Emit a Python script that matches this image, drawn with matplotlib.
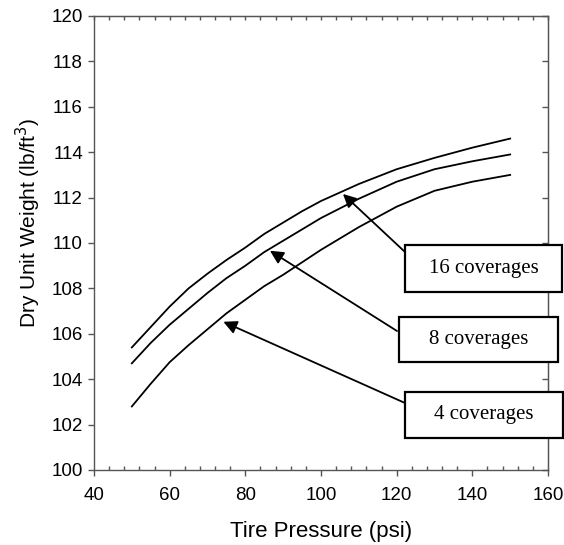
import matplotlib
matplotlib.use("Agg")
import matplotlib.pyplot as plt
from matplotlib.patches import Rectangle
from matplotlib.ticker import MultipleLocator

pressure = [50, 55, 60, 65, 70, 75, 80, 85, 90, 95, 100, 110, 120, 130, 140, 150]
cov16 = [105.4, 106.3, 107.2, 108.0, 108.65, 109.25, 109.8, 110.4, 110.9, 111.4, 111.85, 112.6, 113.25, 113.75, 114.2, 114.6]
cov8 = [104.7, 105.6, 106.4, 107.1, 107.8, 108.45, 109.0, 109.6, 110.1, 110.6, 111.1, 111.95, 112.7, 113.25, 113.6, 113.9]
cov4 = [102.8, 103.8, 104.75, 105.5, 106.2, 106.9, 107.5, 108.1, 108.6, 109.15, 109.7, 110.7, 111.6, 112.3, 112.7, 113.0]

labels = ["16 coverages", "8 coverages", "4 coverages"]
arrow_tips = [(105.8, 112.16), (86.5, 109.66), (74.2, 106.53)]

W, H = 564, 545
fig = plt.figure(figsize=(W / 100, H / 100), dpi=100)
ax = fig.add_axes([94 / W, 1 - 470 / H, (548 - 94) / W, (470 - 16) / H])

sans = "Liberation Sans"
serif = "Liberation Serif"
spine_col = "#555555"

for y in (cov16, cov8, cov4):
    ax.plot(pressure, y, color="black", lw=1.3)

ax.set_xlim(40, 160)
ax.set_ylim(100, 120)
ax.xaxis.set_major_locator(MultipleLocator(20))
ax.xaxis.set_minor_locator(MultipleLocator(4))
ax.yaxis.set_major_locator(MultipleLocator(2))

for s in ax.spines.values():
    s.set_color(spine_col)
    s.set_linewidth(1.0)

ax.tick_params(axis="x", which="major", direction="out", length=4, width=1, color=spine_col,
               labelsize=13.5, pad=8)
ax.tick_params(axis="x", which="minor", direction="in", length=3, width=1, color=spine_col)
ax.tick_params(axis="y", which="major", direction="out", length=4, width=1, color=spine_col,
               labelsize=13.5, pad=4)
for lab in ax.get_xticklabels() + ax.get_yticklabels():
    lab.set_fontfamily(sans)

top = ax.secondary_xaxis("top")
top.xaxis.set_major_locator(MultipleLocator(20))
top.xaxis.set_minor_locator(MultipleLocator(4))
top.tick_params(which="both", direction="in", length=3, width=1, color=spine_col, labeltop=False)
top.spines["top"].set_color(spine_col)

right = ax.secondary_yaxis("right")
right.yaxis.set_major_locator(MultipleLocator(2))
right.tick_params(which="both", direction="in", length=4, width=1, color=spine_col, labelright=False)
right.spines["right"].set_color(spine_col)

fig.text(321 / W, 1 - 532 / H, "Tire Pressure (psi)", fontfamily=sans, fontsize=16,
         ha="center", va="center")
fig.text(28 / W, 1 - 223 / H, "Dry Unit Weight (lb/ft$^3$)", fontfamily=sans, fontsize=15,
         ha="center", va="center", rotation=90)

# boxes in pixel coords (x0, y0_top, x1, y1_bottom)
boxes = [(405, 245, 562, 292), (399, 317, 558, 362), (405, 392, 563, 438)]
tails = [(405, 252), (397, 331), (405, 403)]

for lab, (x0, y0, x1, y1), tip, tail in zip(labels, boxes, arrow_tips, tails):
    rect = Rectangle((x0 / W, 1 - y1 / H), (x1 - x0) / W, (y1 - y0) / H,
                     transform=fig.transFigure, facecolor="white", edgecolor="black",
                     lw=1.6, zorder=5)
    fig.patches.append(rect)
    fig.text((x0 + x1) / 2 / W, 1 - (y0 + y1) / 2 / H, lab, ha="center", va="center",
             fontfamily=serif, fontsize=15, zorder=6)
    ax.annotate("", xy=tip, xycoords="data",
                xytext=(tail[0] / W, 1 - tail[1] / H), textcoords="figure fraction",
                arrowprops=dict(arrowstyle="-|>", color="black", lw=1.3,
                                mutation_scale=20, shrinkA=0, shrinkB=0),
                annotation_clip=False)

fig.savefig("out.png", dpi=100)
